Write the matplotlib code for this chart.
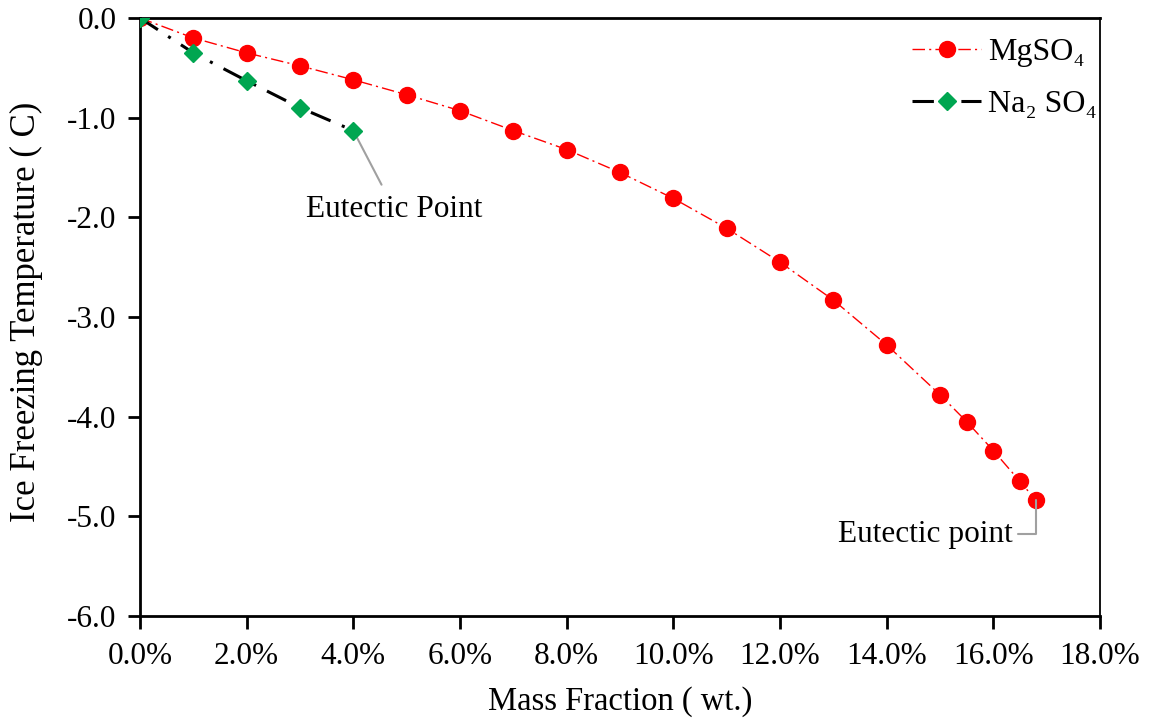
import matplotlib
matplotlib.use("Agg")
import matplotlib.pyplot as plt
from matplotlib.ticker import FuncFormatter, MultipleLocator

plt.rcParams['font.family'] = ['Liberation Serif', 'DejaVu Serif']

# Freezing point depression data (mass fraction, °C)
mg_x = [0.0, 0.01, 0.02, 0.03, 0.04, 0.05, 0.06, 0.07, 0.08, 0.09, 0.10,
        0.11, 0.12, 0.13, 0.14, 0.15, 0.155, 0.16, 0.165, 0.168]
mg_y = [0.0, -0.20, -0.35, -0.48, -0.62, -0.77, -0.93, -1.13, -1.32, -1.55,
        -1.81, -2.11, -2.45, -2.83, -3.28, -3.78, -4.05, -4.34, -4.65, -4.84]

na_x = [0.0, 0.01, 0.02, 0.03, 0.04]
na_y = [0.0, -0.35, -0.63, -0.90, -1.13]

labels = ["MgSO₄", "Na₂ SO₄"]

FS = 22.5

fig = plt.figure(figsize=(11.5, 7.19), dpi=100)
ax = fig.add_axes([140 / 1150, 1 - 616 / 719, 960 / 1150, 598 / 719])

ax.plot(mg_x, mg_y, color='#ff0000', lw=1.0, linestyle=(0, (9, 3, 1.5, 3)),
        marker='o', markersize=11.5, markerfacecolor='#ff0000',
        markeredgecolor='#ff0000', label=labels[0], zorder=3)
ax.plot(na_x, na_y, color='black', lw=2.2, linestyle=(0, (7, 4, 1, 4)),
        marker='D', markersize=9, markerfacecolor='#00a651',
        markeredgecolor='#00a651', label=labels[1], zorder=4)

ax.set_xlim(0, 0.18)
ax.set_ylim(-6.0, 0.0)
ax.xaxis.set_major_locator(MultipleLocator(0.02))
ax.yaxis.set_major_locator(MultipleLocator(1.0))
ax.xaxis.set_major_formatter(FuncFormatter(lambda v, p: f"{v * 100:.1f}%"))
ax.yaxis.set_major_formatter(FuncFormatter(lambda v, p: f"{v:.1f}"))
ax.tick_params(axis='both', direction='out', length=9, width=2,
               labelsize=FS)
ax.tick_params(axis='x', pad=10)
ax.tick_params(axis='y', pad=8)
for sp in ax.spines.values():
    sp.set_linewidth(2)
    sp.set_color('black')
ax.spines['right'].set_linewidth(1.3)

ax.set_xlabel("Mass Fraction ( wt.)", fontsize=23.5)
ax.set_ylabel("Ice Freezing Temperature ( C)", fontsize=25)
ax.xaxis.set_label_coords(0.5, -0.118)
ax.yaxis.set_label_coords(-0.101, 0.508)

ax.annotate("Eutectic Point", xy=(na_x[-1], na_y[-1]), xytext=(0.0477, -1.92),
            fontsize=FS, ha='center', va='center',
            arrowprops=dict(arrowstyle='-', color='#a0a0a0', lw=1.5,
                            shrinkA=6, shrinkB=0))
ax.annotate("Eutectic point", xy=(mg_x[-1], mg_y[-1]), xytext=(0.1473, -5.18),
            fontsize=FS, ha='center', va='center',
            arrowprops=dict(arrowstyle='-', color='#a0a0a0', lw=1.5,
                            shrinkA=0, shrinkB=0,
                            connectionstyle="angle,angleA=0,angleB=90,rad=0",
                            relpos=(1.03, 0.5)))

leg = ax.legend(loc='upper right', bbox_to_anchor=(1.0, 0.972), frameon=False,
                fontsize=23, handlelength=2.16, handletextpad=0.22,
                labelspacing=0.7, borderaxespad=0.0, borderpad=0.1)

fig.savefig("out.png", dpi=100)
